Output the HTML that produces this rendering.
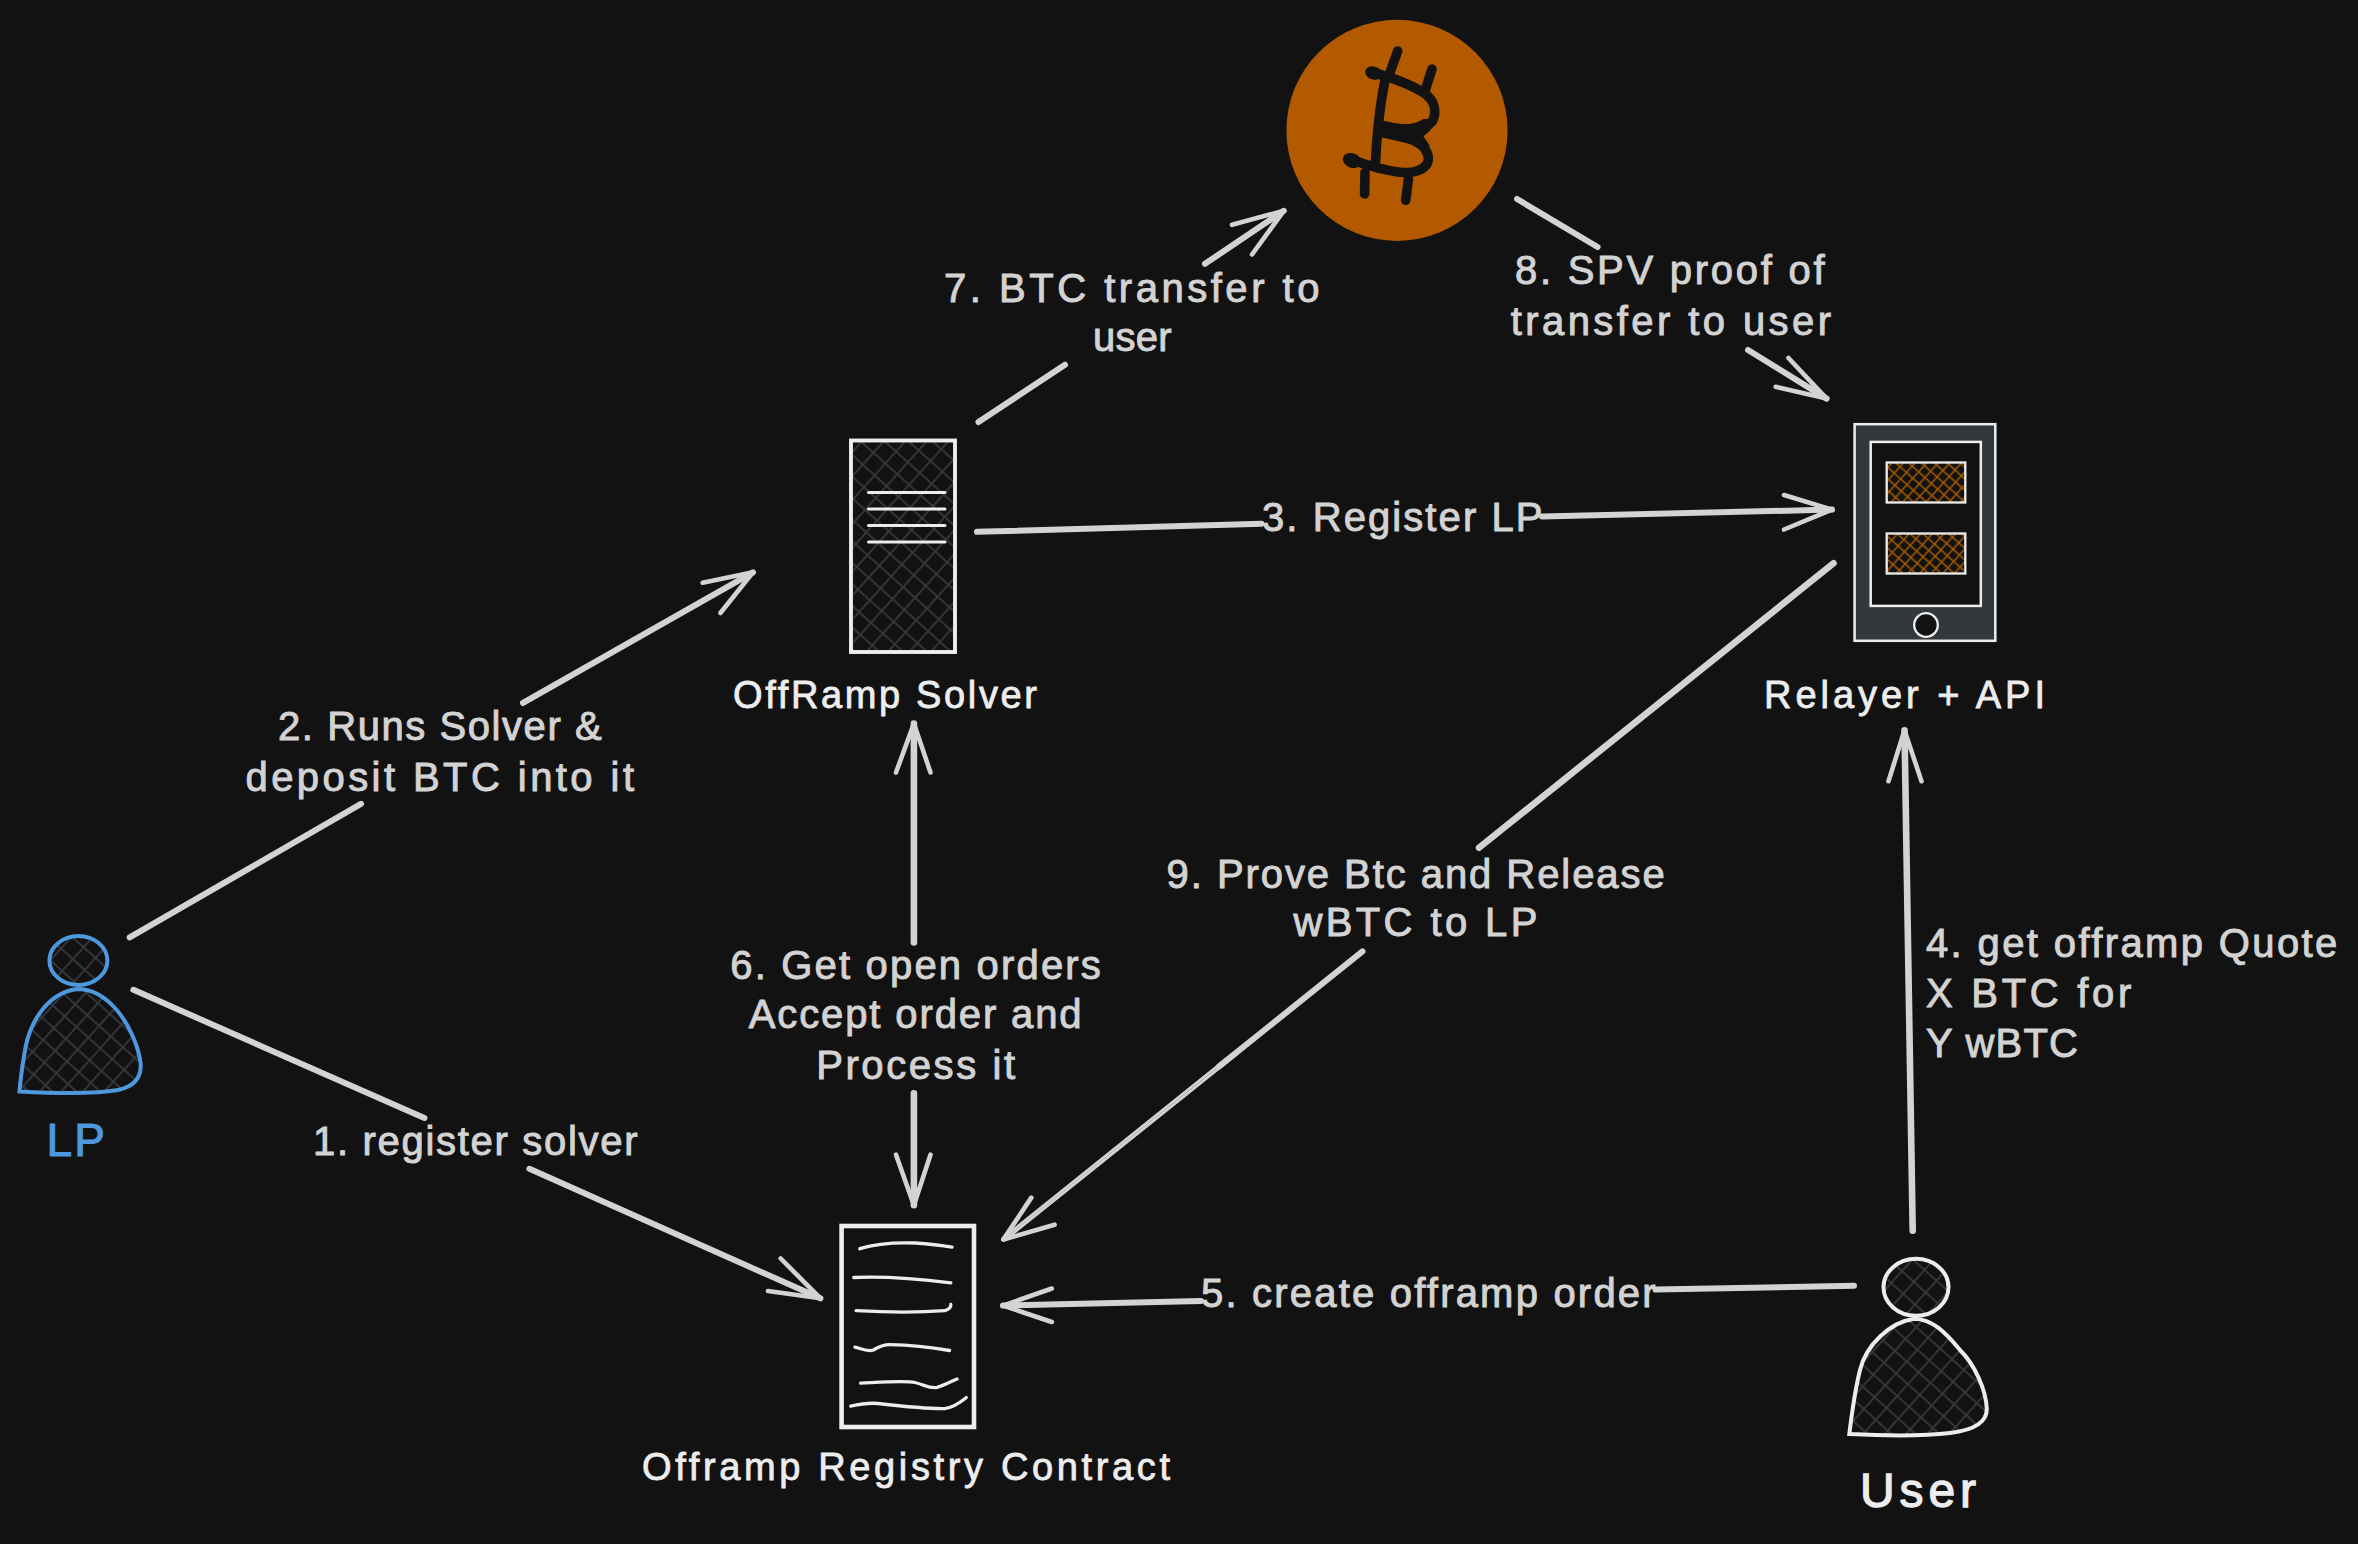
<!DOCTYPE html>
<html><head><meta charset="utf-8"><title>Offramp flow</title>
<style>html,body{margin:0;padding:0;background:#121212;overflow:hidden}svg{display:block}svg,text{font-family:"Liberation Sans",sans-serif}</style>
</head><body>
<svg width="2358" height="1544" viewBox="0 0 2358 1544">
<rect x="0" y="0" width="2358" height="1544" fill="#121212"/>
<defs>
<pattern id="hg" patternUnits="userSpaceOnUse" width="16" height="16" patternTransform="rotate(42)">
<line x1="0" y1="8" x2="16" y2="8" stroke="#33383d" stroke-width="1.8"/>
<line x1="8" y1="0" x2="8" y2="16" stroke="#33383d" stroke-width="1.8"/>
</pattern>
<pattern id="ho" patternUnits="userSpaceOnUse" width="8.6" height="8.6" patternTransform="rotate(42)">
<line x1="0" y1="4.3" x2="8.6" y2="4.3" stroke="#a85a00" stroke-width="1.5"/>
<line x1="4.3" y1="0" x2="4.3" y2="8.6" stroke="#a85a00" stroke-width="1.5"/>
</pattern>
</defs>
<circle cx="1397" cy="130.4" r="110.6" fill="#b35a00"/>
<g fill="none" stroke="#121212" stroke-width="9.6" stroke-linecap="round" stroke-linejoin="round"><path d="M1397.7,51 L1390.2,72"/><path d="M1432,69 L1425.5,89.5"/><path d="M1371,72 C1390,77 1410,84 1424,93 C1434,100 1437,110 1433,120 C1429,127 1418,129 1404,129 C1396,129 1390,127 1385,126"/><path d="M1383,132.5 C1395,134 1410,137 1420,144 C1428,150 1430,158 1427,164 C1423,170 1414,173 1404,172.5 C1394,172 1388,170 1380,168.5 C1370,166 1358,162 1350,159"/><path d="M1385,80 C1381,100 1378,125 1376.5,145 L1375.3,166"/><path d="M1365,172.5 L1364.6,194"/><path d="M1408.4,179 L1405.7,200.3"/></g><path d="M1381,121 L1404,124.4 C1412,124.5 1419,122 1423,119 L1436.5,119 C1435,125 1430,132 1423.4,136.2 L1430,146 L1421,149 C1414,145 1408,143.5 1404,142.6 L1381,137.3 Z" fill="#121212"/><ellipse cx="1373.5" cy="73" rx="8.5" ry="6.6" transform="rotate(16 1373.5 73)" fill="#121212"/><ellipse cx="1352" cy="160.5" rx="9.5" ry="7.2" transform="rotate(22 1352 160.5)" fill="#121212"/>
<rect x="851" y="440.5" width="104" height="211.5" fill="url(#hg)" stroke="#ededed" stroke-width="3.9"/>
<g stroke="#ededed" stroke-width="3" stroke-linecap="round"><line x1="868.5" y1="492.5" x2="945" y2="492.5"/><line x1="868.5" y1="509" x2="945" y2="509"/><line x1="868.5" y1="525.5" x2="945" y2="525.5"/><line x1="868.5" y1="542" x2="945" y2="542"/></g>
<rect x="1854.6" y="424.2" width="140.7" height="216.6" fill="#33383d" stroke="#ededed" stroke-width="2.5"/>
<rect x="1870.7" y="441.9" width="110.1" height="164" fill="#121212" stroke="#ededed" stroke-width="2.5"/>
<rect x="1886.7" y="462.5" width="78.6" height="40" fill="url(#ho)" stroke="#ededed" stroke-width="2.3"/>
<rect x="1886.7" y="533.5" width="78.6" height="40" fill="url(#ho)" stroke="#ededed" stroke-width="2.3"/>
<circle cx="1926" cy="625" r="11.8" fill="#121212" stroke="#ededed" stroke-width="2.3"/>
<rect x="841.6" y="1226" width="132.4" height="201" fill="#121212" stroke="#ededed" stroke-width="4.6"/>
<g fill="none" stroke="#ededed" stroke-width="3.3" stroke-linecap="round"><path d="M859.8,1248.7 C875,1244 890,1242 915.2,1243 C930,1244 945,1246 952,1247.2"/><path d="M853.7,1277.5 C880,1276.5 920,1279 950.8,1282.9"/><path d="M856.1,1310.7 C880,1312 920,1312.5 944.7,1310.7 C950,1309 951,1306 950.8,1304.5"/><path d="M854.9,1347.1 C862,1349 868,1352 873.3,1350 C878,1347 882,1344.6 890,1344.6 C910,1345 935,1348 949.6,1350.5"/><path d="M860.6,1383.2 C885,1382 905,1380.5 915,1382.5 C925,1385 930,1389 937,1387.4 C945,1385 952,1381 957,1379"/><path d="M850.7,1406.1 C860,1404 868,1402.5 878,1403.5 C900,1406 930,1409 944.7,1408.6 C955,1407 962,1401 966.3,1397.5"/></g>
<ellipse cx="78.4" cy="960.5" rx="29" ry="24.5" fill="url(#hg)" stroke="#4d98de" stroke-width="4"/>
<path d="M77.7,989 C50,992 32,1018 26,1045 C23,1060 21,1075 19.4,1091.4 C50,1093 95,1094 118,1090 C136,1086 142,1076 140.5,1062 C138,1045 128,1022 115,1008 C104,996 92,989 77.7,989 Z" fill="url(#hg)" stroke="#4d98de" stroke-width="4"/>
<ellipse cx="1916" cy="1287.3" rx="32.5" ry="28.5" fill="url(#hg)" stroke="#ededed" stroke-width="4"/>
<path d="M1914.4,1318.7 C1890,1322 1866,1345 1860,1370 C1855,1390 1852,1412 1849.3,1434.1 C1880,1435.5 1925,1436 1950,1433 C1975,1430 1987,1422 1986.8,1408.9 C1986,1390 1975,1365 1960,1350 C1945,1332 1932,1319 1914.4,1318.7 Z" fill="url(#hg)" stroke="#ededed" stroke-width="4"/>
<g fill="none" stroke="#d3d3d3" stroke-linecap="round" stroke-linejoin="round"><path d="M978.5,422 L1065,364.7" stroke-width="6.0"/><path d="M1205,263.8 L1283.8,210.8" stroke-width="6.0"/><path d="M1517,199 L1597.6,247" stroke-width="6.0"/><path d="M1748,350 L1826.6,398.6" stroke-width="6.0"/><path d="M977,531.8 L1261.5,523.7" stroke-width="6.0"/><path d="M1542,516.5 L1832,509.6" stroke-width="6.0"/><path d="M1854,1285.8 L1655.6,1289.6" stroke-width="6.0"/><path d="M1201,1301 L1003,1305.6" stroke-width="6.0"/><path d="M129.7,937.4 L361,803.8" stroke-width="6.0"/><path d="M523,702.9 L753,572.3" stroke-width="6.0"/><path d="M133.4,989.8 L424.4,1118" stroke-width="6.0"/><path d="M529.4,1168.8 L820.4,1298.3" stroke-width="6.0"/><path d="M913.9,723.6 L913.9,942.5" stroke-width="6.6"/><path d="M913.9,1093.4 L913.9,1205.2" stroke-width="6.6"/><path d="M1833.5,563.3 L1479,847.8" stroke-width="6.6"/><path d="M1362.5,951.4 L1218.8,1066.7" stroke-width="6.0"/><path d="M1912.7,1230.8 L1904.5,730.3" stroke-width="6.6"/></g>
<g fill="none" stroke="#d3d3d3" stroke-width="2.7" stroke-linecap="round"><path d="M1236,1054.6 L1004.2,1240.5"/><path d="M1234,1052.8 L1002.4,1238.7"/></g>
<g fill="none" stroke="#d3d3d3" stroke-width="4.6" stroke-linecap="round" stroke-linejoin="round"><path d="M1232,224.8 L1283.8,210.8 L1252,254.5"/><path d="M1788.5,358 L1826.6,398.6 L1775.7,386.8"/><path d="M1784,495 L1832,509.6 L1784,529.5"/><path d="M1051.8,1288.5 L1003,1305.6 L1051.8,1322"/><path d="M702.6,582.7 L753,572.3 L720.4,613"/><path d="M780.7,1258.5 L820.4,1298.3 L768,1291"/><path d="M896,772.5 L913.9,723.6 L930.5,772.5"/><path d="M896,1154.7 L913.9,1205.2 L930.5,1154.7"/><path d="M1031.3,1197.6 L1003.3,1239.6 L1054.6,1224.7"/><path d="M1888.5,781.2 L1904.5,730.3 L1921.5,781.2"/></g>
<g><text x="944" y="301.5" textLength="375.5" lengthAdjust="spacing" fill="#d3d3d3" stroke="#d3d3d3" stroke-width="0.95" font-size="40">7. BTC transfer to</text><text x="1093" y="351" textLength="78.5" lengthAdjust="spacing" fill="#d3d3d3" stroke="#d3d3d3" stroke-width="0.95" font-size="40">user</text><text x="1515" y="284" textLength="309.5" lengthAdjust="spacing" fill="#d3d3d3" stroke="#d3d3d3" stroke-width="0.95" font-size="40">8. SPV proof of</text><text x="1510.7" y="335" textLength="320.3" lengthAdjust="spacing" fill="#d3d3d3" stroke="#d3d3d3" stroke-width="0.95" font-size="40">transfer to user</text><text x="1262" y="531" textLength="280.5" lengthAdjust="spacing" fill="#d3d3d3" stroke="#d3d3d3" stroke-width="0.95" font-size="40">3. Register LP</text><text x="278" y="740" textLength="323.7" lengthAdjust="spacing" fill="#d3d3d3" stroke="#d3d3d3" stroke-width="0.95" font-size="40">2. Runs Solver &amp;</text><text x="245.5" y="790.5" textLength="388.5" lengthAdjust="spacing" fill="#d3d3d3" stroke="#d3d3d3" stroke-width="0.95" font-size="40">deposit BTC into it</text><text x="313" y="1155" textLength="324.5" lengthAdjust="spacing" fill="#d3d3d3" stroke="#d3d3d3" stroke-width="0.95" font-size="40">1. register solver</text><text x="730.3" y="979" textLength="370.5" lengthAdjust="spacing" fill="#d3d3d3" stroke="#d3d3d3" stroke-width="0.95" font-size="40">6. Get open orders</text><text x="748.8" y="1028.4" textLength="332.8" lengthAdjust="spacing" fill="#d3d3d3" stroke="#d3d3d3" stroke-width="0.95" font-size="40">Accept order and</text><text x="816.2" y="1079" textLength="198.8" lengthAdjust="spacing" fill="#d3d3d3" stroke="#d3d3d3" stroke-width="0.95" font-size="40">Process it</text><text x="1166.6" y="887.5" textLength="498.1" lengthAdjust="spacing" fill="#d3d3d3" stroke="#d3d3d3" stroke-width="0.95" font-size="40">9. Prove Btc and Release</text><text x="1293.4" y="936.4" textLength="244.0" lengthAdjust="spacing" fill="#d3d3d3" stroke="#d3d3d3" stroke-width="0.95" font-size="40">wBTC to LP</text><text x="1926" y="957" textLength="411.3" lengthAdjust="spacing" fill="#d3d3d3" stroke="#d3d3d3" stroke-width="0.95" font-size="40">4. get offramp Quote</text><text x="1926" y="1007" textLength="205.4" lengthAdjust="spacing" fill="#d3d3d3" stroke="#d3d3d3" stroke-width="0.95" font-size="40">X BTC for</text><text x="1926" y="1057" textLength="152.0" lengthAdjust="spacing" fill="#d3d3d3" stroke="#d3d3d3" stroke-width="0.95" font-size="40">Y wBTC</text><text x="1201" y="1306.8" textLength="454.6" lengthAdjust="spacing" fill="#d3d3d3" stroke="#d3d3d3" stroke-width="0.95" font-size="40">5. create offramp order</text><text x="733" y="708" textLength="304.0" lengthAdjust="spacing" fill="#ededed" stroke="#ededed" stroke-width="0.8" font-size="38">OffRamp Solver</text><text x="1764" y="708" textLength="281.0" lengthAdjust="spacing" fill="#ededed" stroke="#ededed" stroke-width="0.8" font-size="38">Relayer + API</text><text x="642" y="1480" textLength="528.0" lengthAdjust="spacing" fill="#ededed" stroke="#ededed" stroke-width="0.8" font-size="38">Offramp Registry Contract</text><text x="46.6" y="1155.5" textLength="58.4" lengthAdjust="spacing" fill="#4d98de" stroke="#4d98de" stroke-width="1.1" font-size="46">LP</text><text x="1860" y="1507" textLength="116.0" lengthAdjust="spacing" fill="#ededed" stroke="#ededed" stroke-width="1.3" font-size="48">User</text></g>
</svg>
</body></html>
